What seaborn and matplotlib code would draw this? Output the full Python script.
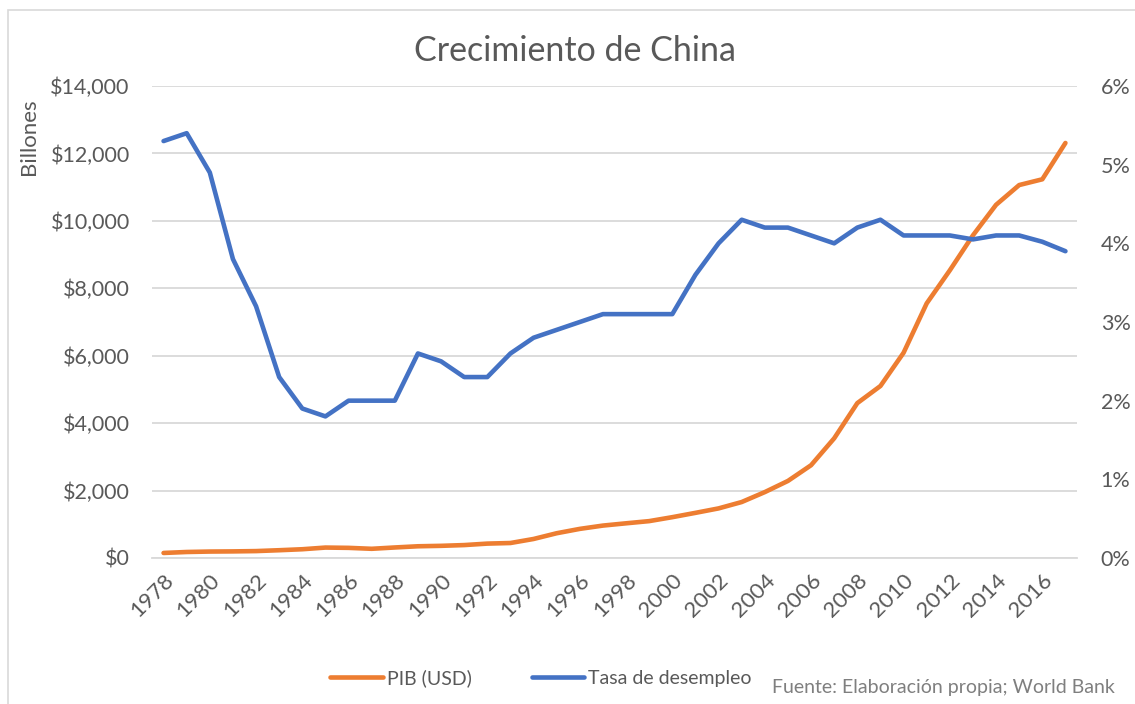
import numpy as np
import pandas as pd
import seaborn as sns
import matplotlib.pyplot as plt
import matplotlib.transforms as mtransforms
from matplotlib.patches import Rectangle
from matplotlib.ticker import FuncFormatter, FixedLocator

# datos (World Bank)
years = list(range(1978, 2018))
pib = [149.5, 178.3, 191.1, 195.9, 205.1, 230.7, 259.9, 309.5, 300.8, 272.9,
       312.4, 347.8, 360.9, 383.4, 426.9, 444.7, 564.3, 734.5, 863.7, 961.6,
       1029.0, 1094.0, 1211.0, 1339.0, 1471.0, 1660.0, 1955.0, 2286.0, 2752.0, 3550.0,
       4594.0, 5102.0, 6087.0, 7552.0, 8532.0, 9570.0, 10476.0, 11062.0, 11233.0, 12310.0]
desempleo = [5.3, 5.4, 4.9, 3.8, 3.2, 2.3, 1.9, 1.8, 2.0, 2.0,
             2.0, 2.6, 2.5, 2.3, 2.3, 2.6, 2.8, 2.9, 3.0, 3.1,
             3.1, 3.1, 3.1, 3.6, 4.0, 4.3, 4.2, 4.2, 4.1, 4.0,
             4.2, 4.3, 4.1, 4.1, 4.1, 4.05, 4.1, 4.1, 4.02, 3.9]

df = pd.DataFrame({"year": years, "pib": pib, "desempleo": desempleo})

sns.set_style("white")
plt.rcParams['font.family'] = ['Lato', 'DejaVu Sans']

gris = "#595959"
naranja = "#ED7D31"
azul = "#4472C4"

fig = plt.figure(figsize=(11.35, 7.04), dpi=100)
ax = fig.add_axes([152/1135, 146/704, 925/1135, 472/704])
ax2 = ax.twinx()

sns.lineplot(data=df, x="year", y="pib", ax=ax, color=naranja, linewidth=3.3,
             solid_capstyle="round", label="PIB (USD)", legend=False)
sns.lineplot(data=df, x="year", y="desempleo", ax=ax2, color=azul, linewidth=3.3,
             solid_capstyle="round", label="Tasa de desempleo", legend=False)

ax.set_xlim(1977.5, 2017.5)
ax.set_ylim(0, 14000)
ax2.set_ylim(0, 6)
ax.set_yticks(np.arange(0, 14001, 2000))
ax2.set_yticks(np.arange(0, 7, 1))
ax.yaxis.set_major_formatter(FuncFormatter(lambda v, p: "${:,.0f}".format(v)))
ax2.yaxis.set_major_formatter(FuncFormatter(lambda v, p: "{:.0f}%".format(v)))

ax.set_xticks(years[::2])
ax.set_xticklabels([str(y) for y in years[::2]], rotation=45, ha="right",
                   rotation_mode="anchor", fontsize=16, color=gris)
# desplazar un poco las etiquetas hacia la derecha
desp = mtransforms.ScaledTranslation(6/100, 0, fig.dpi_scale_trans)
for lab in ax.get_xticklabels():
    lab.set_transform(lab.get_transform() + desp)
ax.xaxis.set_minor_locator(FixedLocator(np.arange(1977.5, 2018, 1)))
ax.tick_params(axis="x", which="major", length=0, pad=9)
ax.tick_params(axis="x", which="minor", direction="in", length=7, color="#d9d9d9", width=1.2)
ax.tick_params(axis="y", length=0, labelsize=15.5, labelcolor=gris, pad=16)
ax2.tick_params(axis="y", which="both", length=0, labelsize=15.5, labelcolor=gris, pad=17)

ax.grid(axis="y", color="#d9d9d9", linewidth=1.3)
ax.set_axisbelow(True)
for a in (ax, ax2):
    for s in a.spines.values():
        s.set_visible(False)
ax.spines["bottom"].set_visible(True)
ax.spines["bottom"].set_color("#d9d9d9")
ax.spines["bottom"].set_linewidth(1.3)

ax.set_xlabel("")
ax2.set_ylabel("")
ax.set_ylabel("Billones", fontsize=16, color=gris)
ax.yaxis.set_label_coords(-113/925, (558 - 137)/472)

fig.text(575/1135, 1 - 51/704, "Crecimiento de China", ha="center", va="center",
         fontsize=24.5, color=gris)

h1, l1 = ax.get_legend_handles_labels()
h2, l2 = ax2.get_legend_handles_labels()
fig.legend(h1 + h2, l1 + l2, loc="center", bbox_to_anchor=(541/1135, 1 - 678/704),
           ncol=2, frameon=False, fontsize=14, handlelength=2.7, handletextpad=0.2,
           columnspacing=3.1, labelcolor=gris)

fig.text(1115/1135, 1 - 688/704, "Fuente: Elaboración propia; World Bank", ha="right",
         va="center", fontsize=14, color="#7f7f7f")

fig.patches.append(Rectangle((8/1135, -0.1), 1.2, 1 - 10/704 + 0.1, transform=fig.transFigure,
                             fill=False, edgecolor="#d9d9d9", linewidth=1.2))

fig.savefig("out.png", dpi=100)
